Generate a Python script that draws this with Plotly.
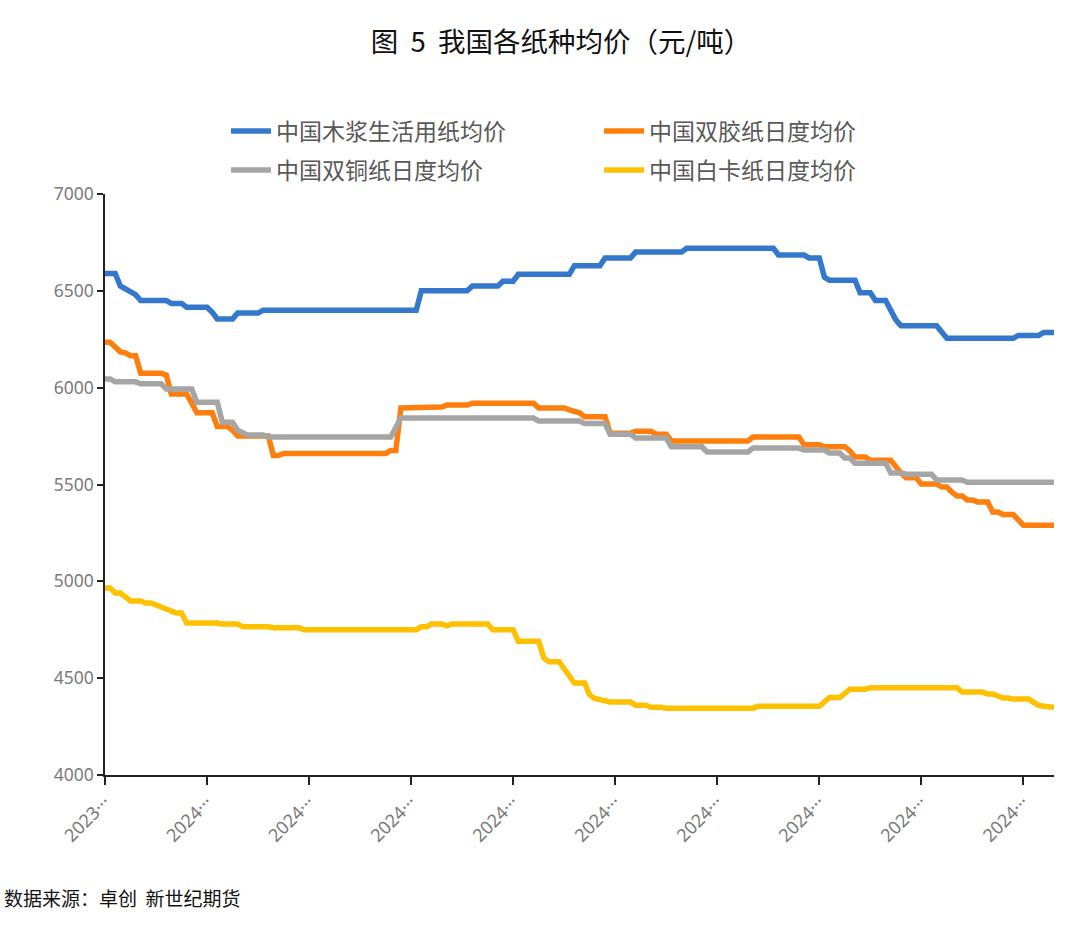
import plotly.graph_objects as go

# ---------------- data (day index, price) ----------------
tick_labels = ["2023···"] + ["2024···"] * 9
tick_days = [0, 20, 40, 60, 80, 100, 120, 140, 160, 180]

names = ["中国木浆生活用纸均价", "中国双胶纸日度均价", "中国双铜纸日度均价", "中国白卡纸日度均价"]

pulp_x = [0, 2, 3, 4, 5, 6, 7, 12, 13, 15, 16, 20, 21, 22, 25, 26, 30, 31, 61, 62, 71, 72, 77, 78, 80, 81,
          91, 92, 97, 98, 103, 104, 113, 114, 131, 132, 137, 138, 140, 141, 142, 147, 148, 150, 151, 153,
          154, 155, 156, 163, 165, 178, 179, 183, 184, 186]
pulp_y = [6590, 6590, 6525, 6510, 6490, 6480, 6450, 6450, 6435, 6435, 6415, 6415, 6390, 6355, 6355, 6385,
          6385, 6400, 6400, 6500, 6500, 6525, 6525, 6550, 6550, 6585, 6585, 6630, 6630, 6670, 6670, 6700,
          6700, 6720, 6720, 6685, 6685, 6670, 6670, 6570, 6555, 6555, 6490, 6490, 6450, 6450, 6400, 6350,
          6320, 6320, 6255, 6255, 6270, 6270, 6285, 6285]

offset_x = [0, 1, 2, 3, 4, 5, 6, 7, 11, 12, 13, 16, 17, 18, 21, 22, 24, 25, 26, 32, 33, 34, 35, 55, 56, 57,
            58, 66, 67, 71, 72, 84, 85, 90, 91, 92, 93, 94, 98, 99, 103, 104, 107, 108, 110, 111, 126, 127,
            136, 137, 140, 141, 145, 146, 147, 149, 150, 154, 155, 156, 157, 159, 160, 163, 164, 165, 166,
            167, 168, 169, 170, 171, 173, 174, 175, 176, 178, 179, 180, 186]
offset_y = [6235, 6235, 6210, 6185, 6180, 6165, 6165, 6075, 6075, 6065, 5967, 5967, 5920, 5870, 5870, 5800,
            5800, 5780, 5750, 5750, 5650, 5650, 5660, 5660, 5675, 5675, 5895, 5900, 5910, 5910, 5920, 5920,
            5895, 5895, 5885, 5875, 5870, 5850, 5850, 5765, 5765, 5775, 5775, 5760, 5760, 5725, 5725, 5745,
            5745, 5705, 5705, 5695, 5695, 5673, 5642, 5642, 5625, 5625, 5590, 5560, 5535, 5535, 5502, 5502,
            5487, 5487, 5460, 5440, 5440, 5420, 5420, 5410, 5410, 5358, 5358, 5345, 5345, 5320, 5290, 5290]

coated_x = [0, 1, 2, 6, 7, 11, 12, 17, 18, 22, 23, 25, 26, 27, 28, 31, 32, 56, 57, 58, 84, 85, 93, 94, 98,
            99, 103, 104, 110, 111, 117, 118, 126, 127, 136, 137, 141, 142, 144, 145, 146, 147, 153, 154,
            156, 157, 162, 163, 168, 169, 186]
coated_y = [6045, 6045, 6030, 6030, 6020, 6020, 5993, 5993, 5925, 5925, 5822, 5822, 5780, 5770, 5755, 5755,
            5745, 5745, 5790, 5843, 5843, 5828, 5828, 5815, 5815, 5760, 5760, 5740, 5740, 5695, 5695, 5668,
            5668, 5688, 5688, 5678, 5678, 5663, 5663, 5637, 5637, 5610, 5610, 5560, 5560, 5553, 5553, 5523,
            5523, 5512, 5512]

ivory_x = [0, 1, 2, 3, 4, 5, 7, 8, 9, 10, 11, 12, 13, 14, 15, 16, 22, 23, 26, 27, 32, 33, 38, 39, 61, 62,
           63, 64, 66, 67, 68, 75, 76, 80, 81, 85, 86, 87, 89, 90, 91, 92, 94, 95, 96, 98, 99, 103, 104, 106,
           107, 109, 110, 127, 128, 140, 141, 142, 144, 145, 146, 149, 150, 167, 168, 172, 173, 174, 175, 176,
           177, 178, 181, 182, 183, 184, 185, 186]
ivory_y = [4965, 4965, 4940, 4940, 4920, 4898, 4898, 4888, 4888, 4877, 4872, 4860, 4847, 4836, 4836, 4785,
           4785, 4780, 4780, 4765, 4765, 4760, 4760, 4750, 4750, 4765, 4765, 4780, 4780, 4770, 4780, 4780,
           4750, 4750, 4690, 4690, 4605, 4585, 4585, 4550, 4510, 4475, 4475, 4413, 4395, 4387, 4377, 4377,
           4360, 4360, 4350, 4350, 4345, 4345, 4355, 4355, 4380, 4400, 4400, 4425, 4443, 4443, 4450, 4450,
           4428, 4428, 4418, 4418, 4405, 4397, 4397, 4392, 4392, 4375, 4360, 4355, 4350, 4350]

colors = ["#3478CC", "#FF7F0E", "#A5A5A5", "#FFC000"]
series = [(pulp_x, pulp_y), (offset_x, offset_y), (coated_x, coated_y), (ivory_x, ivory_y)]
legend_of = ["legend", "legend", "legend2", "legend2"]

fig = go.Figure()
for (xs, ys), name, c, lg in zip(series, names, colors, legend_of):
    fig.add_trace(go.Scatter(x=xs, y=ys, name=name, mode="lines", legend=lg,
                             line=dict(color=c, width=5.5)))

cjk = "Noto Sans CJK SC"
plot_h = 581
leg_common = dict(orientation="h", x=(226 - 105) / 949, xanchor="left", yanchor="middle",
                  entrywidth=318, entrywidthmode="pixels",
                  font=dict(family=cjk, size=23, color="#595959"),
                  itemwidth=40, bgcolor="rgba(0,0,0,0)")
fig.update_layout(
    width=1080, height=950,
    margin=dict(l=105, r=26, t=194, b=175),
    paper_bgcolor="white", plot_bgcolor="white",
    font=dict(family=cjk, color="#595959"),
    title=dict(text="图\u00a0\u00a05\u00a0\u00a0我国各纸种均价（元/吨）", x=561 / 1080, xanchor="center",
               y=1 - 42 / 950, yanchor="middle",
               font=dict(family=cjk, size=27.5, color="#111111")),
    legend=dict(y=1 + (194 - 131) / plot_h, **leg_common),
    legend2=dict(y=1 + (194 - 170) / plot_h, **leg_common),
    showlegend=True,
)
fig.update_xaxes(range=[0, 186], tickmode="array", tickvals=tick_days, ticktext=tick_labels,
                 tickangle=-45, ticks="outside", ticklen=8, tickcolor="#222222", tickwidth=1.5,
                 showline=True, linecolor="#222222", linewidth=1.5, showgrid=False, zeroline=False,
                 tickfont=dict(family="Noto Sans", size=18, color="#7a7a7a"))
fig.update_yaxes(range=[4000, 7000], dtick=500, ticks="outside", ticklen=6, tickcolor="#222222",
                 tickwidth=1.5, showline=True, linecolor="#222222", linewidth=1.5, showgrid=False,
                 zeroline=False, tickfont=dict(family="Noto Sans", size=17.5, color="#7a7a7a"))

fig.add_annotation(text="数据来源：卓创  新世纪期货", xref="paper", yref="paper",
                   x=-103 / 949, xanchor="left", y=-(897 - 775) / plot_h, yanchor="middle",
                   showarrow=False, font=dict(family=cjk, size=19, color="#111111"))

fig.write_html("out.html")
